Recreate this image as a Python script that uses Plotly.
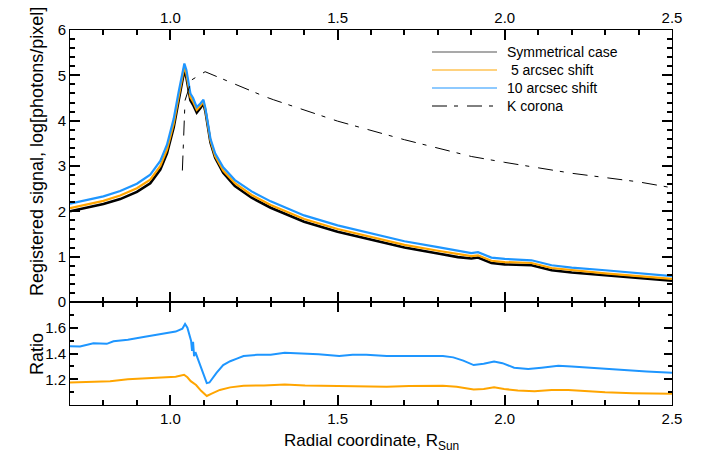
import plotly.graph_objects as go

# ---------------- data ----------------
radius = [0.70, 0.75, 0.80, 0.85, 0.90, 0.94, 0.97, 0.99, 1.01, 1.025,
          1.035, 1.042, 1.048, 1.053, 1.060, 1.068, 1.079, 1.090, 1.099, 1.105,
          1.112, 1.120, 1.134, 1.158, 1.193, 1.243, 1.30, 1.40, 1.50, 1.60,
          1.70, 1.80, 1.86, 1.90, 1.92, 1.96, 2.00, 2.08, 2.14, 2.20,
          2.30, 2.40, 2.50]
signal_sym = [2.00, 2.08, 2.16, 2.27, 2.43, 2.62, 2.92, 3.28, 3.85, 4.45,
              4.85, 5.12, 4.95, 4.70, 4.45, 4.35, 4.18, 4.28, 4.38, 4.20,
              3.90, 3.52, 3.18, 2.85, 2.56, 2.30, 2.08, 1.77, 1.55, 1.37,
              1.20, 1.07, 0.99, 0.96, 0.98, 0.86, 0.83, 0.81, 0.70, 0.65,
              0.59, 0.53, 0.47]
signal_5 = [2.07, 2.15, 2.23, 2.35, 2.51, 2.70, 3.00, 3.36, 3.93, 4.53,
            4.94, 5.20, 5.03, 4.78, 4.52, 4.42, 4.24, 4.33, 4.42, 4.24,
            3.93, 3.56, 3.22, 2.90, 2.62, 2.36, 2.14, 1.83, 1.61, 1.43,
            1.26, 1.13, 1.05, 1.01, 1.03, 0.91, 0.88, 0.86, 0.75, 0.70,
            0.63, 0.57, 0.51]
signal_10 = [2.17, 2.25, 2.33, 2.45, 2.61, 2.81, 3.11, 3.47, 4.04, 4.64,
             5.05, 5.26, 5.12, 4.88, 4.60, 4.50, 4.30, 4.38, 4.46, 4.27,
             3.96, 3.60, 3.28, 2.97, 2.69, 2.44, 2.22, 1.91, 1.69, 1.51,
             1.34, 1.21, 1.13, 1.08, 1.10, 0.98, 0.95, 0.92, 0.81, 0.76,
             0.70, 0.63, 0.57]

kcor_r = [1.036, 1.044, 1.064, 1.104, 1.283, 1.309, 1.50, 1.70, 1.90, 2.00,
          2.20, 2.40, 2.50]
kcor_sig = [2.90, 4.45, 4.90, 5.08, 4.53, 4.46, 3.99, 3.58, 3.21, 3.08,
            2.84, 2.65, 2.52]

ratio10_r = [0.70, 0.73, 0.77, 0.79, 0.81, 0.83, 0.873, 0.924, 0.975, 1.016,
             1.036, 1.044, 1.051, 1.058, 1.062, 1.065, 1.068, 1.071, 1.075, 1.082,
             1.092, 1.102, 1.109, 1.117, 1.138, 1.158, 1.179, 1.199, 1.219, 1.26,
             1.30, 1.342, 1.382, 1.443, 1.505, 1.545, 1.586, 1.647, 1.714, 1.815,
             1.846, 1.876, 1.907, 1.937, 1.968, 1.993, 2.028, 2.07, 2.11, 2.16,
             2.20, 2.252, 2.30, 2.363, 2.424, 2.50]
ratio10 = [1.457, 1.455, 1.48, 1.475, 1.475, 1.495, 1.507, 1.53, 1.55, 1.57,
           1.593, 1.63, 1.60, 1.54, 1.50, 1.42, 1.49, 1.38, 1.41, 1.36,
           1.29, 1.21, 1.17, 1.175, 1.25, 1.31, 1.34, 1.36, 1.38, 1.39,
           1.39, 1.405, 1.40, 1.395, 1.38, 1.39, 1.39, 1.38, 1.38, 1.38,
           1.37, 1.345, 1.31, 1.32, 1.337, 1.325, 1.29, 1.28, 1.29, 1.305,
           1.30, 1.29, 1.28, 1.27, 1.26, 1.25]

ratio5_r = [0.70, 0.77, 0.82, 0.873, 0.934, 0.975, 1.016, 1.041, 1.051, 1.061,
            1.077, 1.092, 1.109, 1.122, 1.148, 1.179, 1.219, 1.28, 1.342, 1.403,
            1.464, 1.515, 1.586, 1.647, 1.714, 1.815, 1.856, 1.907, 1.937, 1.968,
            1.998, 2.039, 2.089, 2.14, 2.19, 2.24, 2.30, 2.383, 2.50]
ratio5 = [1.175, 1.18, 1.185, 1.20, 1.2075, 1.21, 1.22, 1.235, 1.215, 1.185,
          1.155, 1.11, 1.07, 1.087, 1.117, 1.137, 1.15, 1.152, 1.16, 1.152,
          1.15, 1.152, 1.147, 1.142, 1.147, 1.15, 1.142, 1.12, 1.125, 1.137,
          1.125, 1.112, 1.107, 1.117, 1.117, 1.107, 1.10, 1.092, 1.087]

x_tickvals = [1.0, 1.5, 2.0, 2.5]
x_ticktext = ["1.0", "1.5", "2.0", "2.5"]
ratio_tickvals = [1.2, 1.4, 1.6]
ratio_ticktext = ["1.2", "1.4", "1.6"]

legend_names = ["Symmetrical case", "\u00a05 arcsec shift", "10 arcsec shift", "K corona"]

# ---------------- styles ----------------
BLACK = "#000000"
ORANGE = "#FFA500"
BLUE = "#1E96FF"
FONT = "Liberation Sans"
KDASH = "15px,7px,4px,9px"
TW = 1.5

fig = go.Figure()
fig.add_trace(go.Scatter(x=radius, y=signal_sym, mode="lines", xaxis="x", yaxis="y",
                         line=dict(color=BLACK, width=2.6), showlegend=False))
fig.add_trace(go.Scatter(x=radius, y=signal_5, mode="lines", xaxis="x", yaxis="y",
                         line=dict(color=ORANGE, width=2.2), showlegend=False))
fig.add_trace(go.Scatter(x=radius, y=signal_10, mode="lines", xaxis="x", yaxis="y",
                         line=dict(color=BLUE, width=2.2), showlegend=False))
fig.add_trace(go.Scatter(x=kcor_r, y=kcor_sig, mode="lines", xaxis="x", yaxis="y",
                         line=dict(color=BLACK, width=1, dash=KDASH), showlegend=False))
fig.add_trace(go.Scatter(x=ratio10_r, y=ratio10, mode="lines", xaxis="x2", yaxis="y2",
                         line=dict(color=BLUE, width=2), showlegend=False))
fig.add_trace(go.Scatter(x=ratio5_r, y=ratio5, mode="lines", xaxis="x2", yaxis="y2",
                         line=dict(color=ORANGE, width=2), showlegend=False))

split = 103 / 375


def axis(**kw):
    base = dict(showline=True, linecolor=BLACK, linewidth=1, mirror="ticks",
                ticks="inside", tickcolor=BLACK, tickwidth=TW, showgrid=False,
                zeroline=False, automargin=False,
                tickfont=dict(family=FONT, size=15, color=BLACK))
    base.update(kw)
    return base


fig.update_layout(
    width=704, height=464,
    margin=dict(l=70, r=32, t=30, b=59, autoexpand=False),
    paper_bgcolor="white", plot_bgcolor="white",
    font=dict(family=FONT, size=15, color=BLACK),
    xaxis=axis(domain=[0, 1], anchor="y", side="top", range=[0.7, 2.5],
               tickvals=x_tickvals, ticktext=x_ticktext, ticklen=10,
               minor=dict(ticks="inside", ticklen=5, tick0=0.7, dtick=0.1,
                          tickcolor=BLACK, tickwidth=TW)),
    yaxis=axis(domain=[split, 1], anchor="x", range=[0, 6], dtick=1, tick0=0, ticklen=10,
               minor=dict(ticks="inside", ticklen=5, tick0=0, dtick=0.2,
                          tickcolor=BLACK, tickwidth=TW)),
    xaxis2=axis(domain=[0, 1], anchor="y2", side="bottom", range=[0.7, 2.5],
                tickvals=x_tickvals, ticktext=x_ticktext, ticklen=10,
                minor=dict(ticks="inside", ticklen=5, tick0=0.7, dtick=0.1,
                           tickcolor=BLACK, tickwidth=TW)),
    yaxis2=axis(domain=[0, split], anchor="x2", range=[1.0, 1.8],
                tickvals=ratio_tickvals, ticktext=ratio_ticktext, ticklen=8,
                minor=dict(ticks="inside", ticklen=4, tick0=1.0, dtick=0.1,
                           tickcolor=BLACK, tickwidth=TW)),
)


# ---------------- hand-drawn legend (as in the reference) ----------------
def px_x(px):
    return (px - 70) / 602


def px_y(py):
    return (405 - py) / 375


legend_rows = [52, 70, 88, 106]
legend_styles = [dict(color="#555555", width=1.2), dict(color=ORANGE, width=1.2),
                 dict(color=BLUE, width=1.2), dict(color=BLACK, width=1, dash=KDASH)]
for name, row, style in zip(legend_names, legend_rows, legend_styles):
    fig.add_shape(type="line", xref="paper", yref="paper",
                  x0=px_x(432), x1=px_x(497), y0=px_y(row), y1=px_y(row), line=style)
    fig.add_annotation(text=name, xref="paper", yref="paper", x=px_x(505), y=px_y(row),
                       xanchor="left", yanchor="middle", showarrow=False,
                       font=dict(family=FONT, size=14, color=BLACK))

# ---------------- axis titles ----------------
fig.add_annotation(text="Registered signal, log[photons/pixel]", xref="paper", yref="paper",
                   x=px_x(37), y=px_y(152), textangle=-90, showarrow=False,
                   xanchor="center", yanchor="middle",
                   font=dict(family=FONT, size=18, color=BLACK))
fig.add_annotation(text="Ratio", xref="paper", yref="paper",
                   x=px_x(37), y=px_y(354), textangle=-90, showarrow=False,
                   xanchor="center", yanchor="middle",
                   font=dict(family=FONT, size=18, color=BLACK))
fig.add_annotation(text="Radial coordinate, R<sub>Sun</sub>", xref="paper", yref="paper",
                   x=px_x(371), y=px_y(429), showarrow=False,
                   xanchor="center", yanchor="top",
                   font=dict(family=FONT, size=17, color=BLACK))

fig.write_html("out.html", config={"displayModeBar": False},
               post_script="document.body.style.margin='0px';")
